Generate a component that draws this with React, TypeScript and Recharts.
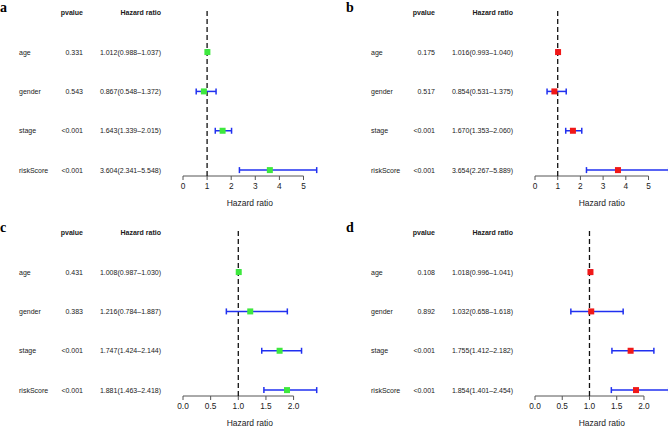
import React from "react";
import {
  ScatterChart,
  Scatter,
  XAxis,
  YAxis,
  ReferenceLine,
  ErrorBar,
} from "recharts";

// variables in the cox model (same for every panel)
const variables = ["age", "gender", "stage", "riskScore"];

// panel a
const pvalueA = ["0.331", "0.543", "<0.001", "<0.001"];
const hrA = [1.012, 0.867, 1.643, 3.604];
const lowA = [0.988, 0.548, 1.339, 2.341];
const highA = [1.037, 1.372, 2.015, 5.548];

// panel b
const pvalueB = ["0.175", "0.517", "<0.001", "<0.001"];
const hrB = [1.016, 0.854, 1.67, 3.654];
const lowB = [0.993, 0.531, 1.353, 2.267];
const highB = [1.04, 1.375, 2.06, 5.889];

// panel c
const pvalueC = ["0.431", "0.383", "<0.001", "<0.001"];
const hrC = [1.008, 1.216, 1.747, 1.881];
const lowC = [0.987, 0.784, 1.424, 1.463];
const highC = [1.03, 1.887, 2.144, 2.418];

// panel d
const pvalueD = ["0.108", "0.892", "<0.001", "<0.001"];
const hrD = [1.018, 1.032, 1.755, 1.854];
const lowD = [0.996, 0.658, 1.412, 1.401];
const highD = [1.041, 1.618, 2.182, 2.454];

const ticksWide = [0, 1, 2, 3, 4, 5];
const ticksNarrow = [0, 0.5, 1, 1.5, 2];

const FONT = "'Liberation Sans', Arial, Helvetica, sans-serif";
const GREEN = "#3ee83e";
const RED = "#f01818";
const BLUE = "#2030f0";

const W = 334;
const H = 215;
const Y_MAX = 4.15;

type Row = {
  y: number;
  name: string;
  p: string;
  hr: number;
  err: [number, number];
  label: string;
};

function buildRows(p: string[], hr: number[], low: number[], high: number[]): Row[] {
  return variables.map((name, i) => ({
    y: i + 1,
    name,
    p: p[i],
    hr: hr[i],
    err: [hr[i] - low[i], high[i] - hr[i]],
    label: `${hr[i].toFixed(3)}(${low[i].toFixed(3)}\u2013${high[i].toFixed(3)})`,
  }));
}

function RowText(props: any) {
  const { y, payload, rows } = props;
  const v = payload.value;
  const base = { fontFamily: FONT, fontSize: 7, fill: "#1a1a1a" };
  if (v === 0) {
    return (
      <g>
        <text x={83} y={y} dy="0.35em" textAnchor="end" {...base} fontWeight="bold">
          pvalue
        </text>
        <text x={161} y={y} dy="0.35em" textAnchor="end" {...base} fontWeight="bold">
          Hazard ratio
        </text>
      </g>
    );
  }
  const r: Row = rows[v - 1];
  if (!r) return null;
  return (
    <g>
      <text x={19} y={y} dy="0.35em" textAnchor="start" {...base}>
        {r.name}
      </text>
      <text x={83} y={y} dy="0.35em" textAnchor="end" {...base}>
        {r.p}
      </text>
      <text x={161} y={y} dy="0.35em" textAnchor="end" {...base}>
        {r.label}
      </text>
    </g>
  );
}

function Forest({
  letter,
  rows,
  ticks,
  color,
  left,
  top,
  xMax,
}: {
  letter: string;
  rows: Row[];
  ticks: number[];
  color: string;
  left: number;
  top: number;
  xMax: number;
}) {
  const decimals = ticks.some((t) => t % 1 !== 0);
  return (
    <div style={{ position: "absolute", left, top, width: W, height: H }}>
      <ScatterChart width={W} height={H} margin={{ top: 8.8, right: 17.3, bottom: 9, left: 0 }}>
        <XAxis
          type="number"
          dataKey="hr"
          domain={[0, xMax]}
          ticks={ticks}
          allowDataOverflow
          axisLine={false}
          tickLine={{ stroke: "#555" }}
          tickSize={4}
          tickMargin={3}
          height={30}
          interval={0}
          tickFormatter={(t: number) => (decimals ? t.toFixed(1) : String(t))}
          tick={{ fontFamily: FONT, fontSize: 8.3, fill: "#222" }}
          label={{
            value: "Hazard ratio",
            position: "insideBottom",
            offset: 0,
            style: { fontFamily: FONT, fontSize: 8.5, fill: "#222" },
          }}
        />
        <YAxis
          type="number"
          dataKey="y"
          domain={[-0.1, Y_MAX]}
          reversed
          ticks={[0, 1, 2, 3, 4]}
          interval={0}
          axisLine={false}
          tickLine={false}
          width={183}
          tick={(p: any) => <RowText {...p} rows={rows} />}
        />
        <ReferenceLine
          segment={[
            { x: 0, y: Y_MAX },
            { x: ticks[ticks.length - 1], y: Y_MAX },
          ]}
          stroke="#555"
          strokeWidth={1}
          ifOverflow="visible"
        />
        <ReferenceLine x={1} stroke="#111" strokeWidth={1.3} strokeDasharray="5 3" />
        <Scatter
          data={rows}
          isAnimationActive={false}
          shape={(p: any) => (
            <rect x={p.cx - 3} y={p.cy - 3} width={6} height={6} fill={color} />
          )}
        >
          <ErrorBar dataKey="err" direction="x" width={3} stroke={BLUE} strokeWidth={1.5} />
        </Scatter>
      </ScatterChart>
      <div
        style={{
          position: "absolute",
          left: letter === "a" || letter === "c" ? 0 : -6,
          top: 1,
          fontFamily: "'Liberation Serif', 'Times New Roman', serif",
          fontWeight: "bold",
          fontSize: 14,
          lineHeight: "14px",
        }}
      >
        {letter}
      </div>
    </div>
  );
}

export default function App() {
  const panels = [
    { letter: "a", rows: buildRows(pvalueA, hrA, lowA, highA), high: highA, ticks: ticksWide, color: GREEN, left: 0, top: 0 },
    { letter: "b", rows: buildRows(pvalueB, hrB, lowB, highB), high: highB, ticks: ticksWide, color: RED, left: 352, top: 0 },
    { letter: "c", rows: buildRows(pvalueC, hrC, lowC, highC), high: highC, ticks: ticksNarrow, color: GREEN, left: 0, top: 220 },
    { letter: "d", rows: buildRows(pvalueD, hrD, lowD, highD), high: highD, ticks: ticksNarrow, color: RED, left: 352, top: 220 },
  ];
  return (
    <div
      style={{
        position: "absolute",
        left: 0,
        top: 0,
        width: 668,
        height: 429,
        overflow: "hidden",
        background: "#fff",
      }}
    >
      {panels.map((p) => (
        <Forest
          key={p.letter}
          letter={p.letter}
          rows={p.rows}
          ticks={p.ticks}
          color={p.color}
          left={p.left}
          top={p.top}
          xMax={Math.max(...p.high)}
        />
      ))}
    </div>
  );
}
